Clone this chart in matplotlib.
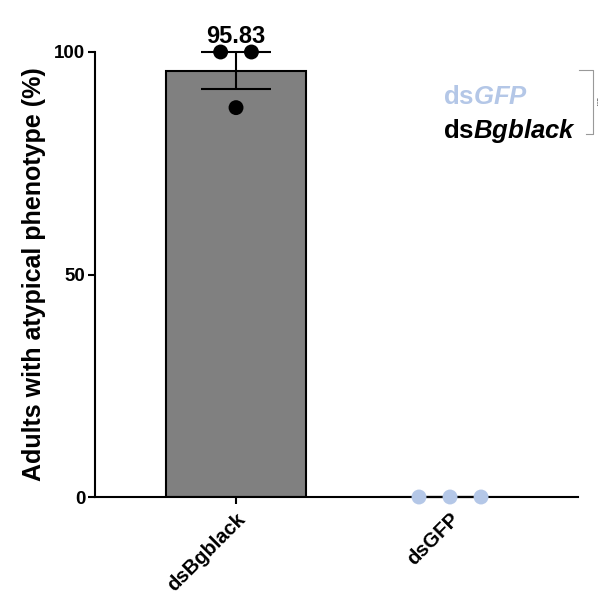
import numpy as np
import matplotlib
matplotlib.use("Agg")
import matplotlib.pyplot as plt

plt.rcParams['font.family'] = ['Liberation Sans', 'DejaVu Sans']
plt.rcParams['mathtext.fontset'] = 'custom'
plt.rcParams['mathtext.it'] = 'Liberation Sans:italic:bold'
plt.rcParams['mathtext.rm'] = 'Liberation Sans:bold'

categories = ["dsBgblack", "dsGFP"]
replicates = {
    "dsBgblack": [100.0, 100.0, 87.5],
    "dsGFP": [0.0, 0.0, 0.0],
}
bar_colors = ["#808080", "#808080"]
dot_colors = ["#000000", "#b4c7e7"]
yticks = [0, 50, 100]

means = [np.mean(replicates[c]) for c in categories]
sems = [np.std(replicates[c], ddof=1) / np.sqrt(len(replicates[c])) for c in categories]

fig = plt.figure(figsize=(5.98, 6.01), dpi=100)
ax = fig.add_axes([95/598, 1-497/601, (578-95)/598, (497-52)/601])
x = np.arange(len(categories))
ax.bar(x, means, width=0.655, color=bar_colors, edgecolor="black", linewidth=1.5, zorder=2)
ax.errorbar(x, means, yerr=sems, fmt="none", ecolor="black", elinewidth=1.5,
            capsize=25, capthick=1.5, zorder=3, clip_on=False)
offsets = [-0.145, 0.0, 0.145]
for i, c in enumerate(categories):
    vals = replicates[c]
    if c == "dsBgblack":
        xs = [x[i] - 0.072, x[i] + 0.072, x[i]]
    else:
        xs = [x[i] + o for o in offsets]
    ax.scatter(xs, vals, s=115, color=dot_colors[i], zorder=4, clip_on=False, edgecolors="none")

ax.text(x[0], 100 + 1.0, f"{means[0]:.2f}", ha="center", va="bottom",
        fontsize=17, fontweight="bold", zorder=5)

ax.set_xlim(-0.659, 1.598)
ax.set_ylim(0, 100)
ax.set_yticks(yticks)
ax.set_yticklabels([str(t) for t in yticks], fontsize=13.5, fontweight="bold")
ax.set_xticks(x)
ax.set_xticklabels(categories, rotation=45, ha="right", rotation_mode="anchor",
                   fontsize=14.5, fontweight="bold")
ax.set_ylabel("Adults with atypical phenotype (%)", fontsize=18, fontweight="bold", labelpad=6)
for s in ["top", "right"]:
    ax.spines[s].set_visible(False)
for s in ["left", "bottom"]:
    ax.spines[s].set_linewidth(1.5)
ax.tick_params(axis="y", width=1.5, length=5, pad=2)
ax.tick_params(axis="x", width=1.5, length=5, pad=4)

# legend-like labels
fig.text(443/598, 1-97/601, r"ds$\it{GFP}$", color="#b4c7e7", fontsize=18.5,
         fontweight="bold", ha="left", va="center")
fig.text(443/598, 1-131/601, r"ds$\it{Bgblack}$", color="black", fontsize=18.5,
         fontweight="bold", ha="left", va="center")
# bracket
bx0, bx1, bx2 = 579/598, 593/598, 586/598
yt, yb = 1-70/601, 1-134/601
fig.add_artist(plt.Line2D([bx0, bx1, bx1, bx2], [yt, yt, yb, yb], color="#999999", lw=0.8))
fig.text(593.5/598, (yt+yb)/2, "****", rotation=-90, ha="left", va="center", fontsize=4.5)

fig.savefig("out.png", dpi=100)
